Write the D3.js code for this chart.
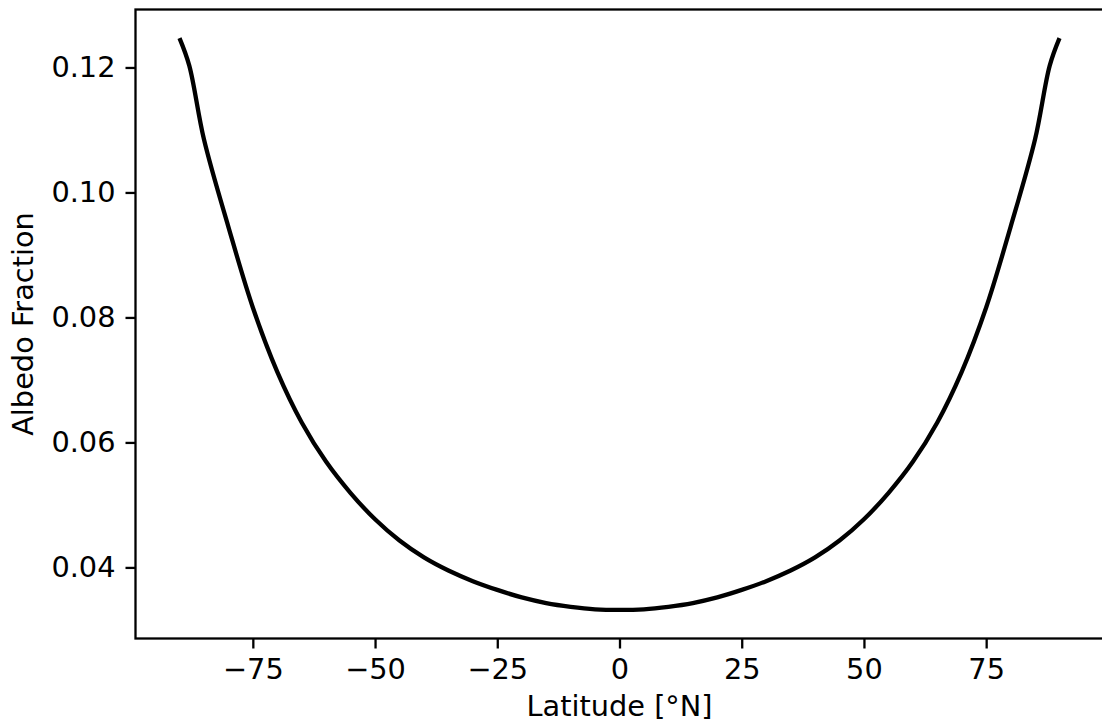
<!DOCTYPE html>
<html>
<head>
<meta charset="utf-8">
<script src="https://cdn.jsdelivr.net/npm/d3@7"></script>
<style>
  body { margin: 0; background: #fff; }
  svg { display: block; }
  text { font-family: "DejaVu Sans", sans-serif; fill: #000; }
</style>
</head>
<body>
<script>
// data
var latitude = [-90, -88, -85, -80, -75, -70, -65, -60, -55, -50, -45, -40, -35, -30, -25, -20, -15, -10, -5, 0,
                5, 10, 15, 20, 25, 30, 35, 40, 45, 50, 55, 60, 65, 70, 75, 80, 85, 88, 90];
var albedo = [0.1247, 0.1203, 0.1085, 0.0945, 0.0816, 0.0713, 0.0632, 0.0569, 0.0519, 0.0477, 0.0443, 0.0416,
              0.0395, 0.0378, 0.0364, 0.0352, 0.0343, 0.0337, 0.0333, 0.0332,
              0.0333, 0.0337, 0.0343, 0.0352, 0.0364, 0.0378, 0.0395, 0.0416, 0.0443, 0.0477, 0.0519, 0.0569,
              0.0632, 0.0713, 0.0816, 0.0945, 0.1085, 0.1203, 0.1247];
var xTicks = [-75, -50, -25, 0, 25, 50, 75];
var yTicks = [0.04, 0.06, 0.08, 0.10, 0.12];

var W = 1102, H = 723;
var fs = 28.8;
// plot area box (note: "top" is reserved on window, so use other names)
var axL = 135.5, axR = 1103.5, axT = 9.5, axB = 638.5;

var svg = d3.select("body").append("svg")
  .attr("width", W).attr("height", H);

// matplotlib style 5% margins
var xmin = d3.min(latitude), xmax = d3.max(latitude);
var ymin = d3.min(albedo), ymax = d3.max(albedo);
var xpad = (xmax - xmin) * 0.05, ypad = (ymax - ymin) * 0.05;

var x = d3.scaleLinear().domain([xmin - xpad, xmax + xpad]).range([axL, axR]);
var y = d3.scaleLinear().domain([ymin - ypad, ymax + ypad]).range([axB, axT]);

var pts = latitude.map(function(d, i) { return [d, albedo[i]]; });

var line = d3.line()
  .x(function(d) { return x(d[0]); })
  .y(function(d) { return y(d[1]); })
  .curve(d3.curveCatmullRom.alpha(0.5));

svg.append("path")
  .datum(pts)
  .attr("d", line)
  .attr("fill", "none")
  .attr("stroke", "#000")
  .attr("stroke-width", 4.3)
  .attr("stroke-linejoin", "round")
  .attr("stroke-linecap", "butt");

// axes
var xAxis = d3.axisBottom(x).tickValues(xTicks).tickSize(10).tickPadding(10)
  .tickFormat(function(d) { return d < 0 ? "\u2212" + Math.abs(d) : d; });
var yAxis = d3.axisLeft(y).tickValues(yTicks).tickSize(10).tickPadding(10)
  .tickFormat(d3.format(".2f"));

var gx = svg.append("g").attr("transform", "translate(0," + axB + ")").call(xAxis);
var gy = svg.append("g").attr("transform", "translate(" + axL + ",0)").call(yAxis);

[gx, gy].forEach(function(g) {
  g.select(".domain").remove();
  g.selectAll(".tick line").attr("stroke", "#000").attr("stroke-width", 2.3);
  g.selectAll(".tick text").style("font-size", fs + "px").style("font-family", "DejaVu Sans").attr("fill", "#000");
});

// spines
svg.append("rect")
  .attr("x", axL).attr("y", axT)
  .attr("width", axR - axL).attr("height", axB - axT)
  .attr("fill", "none").attr("stroke", "#000").attr("stroke-width", 2.3);

// labels
svg.append("text")
  .attr("x", (axL + axR) / 2).attr("y", 716)
  .attr("text-anchor", "middle")
  .style("font-size", fs + "px")
  .text("Latitude [\u00b0N]");

svg.append("text")
  .attr("transform", "translate(33," + ((axT + axB) / 2) + ") rotate(-90)")
  .attr("text-anchor", "middle")
  .style("font-size", fs + "px")
  .text("Albedo Fraction");
</script>
</body>
</html>
